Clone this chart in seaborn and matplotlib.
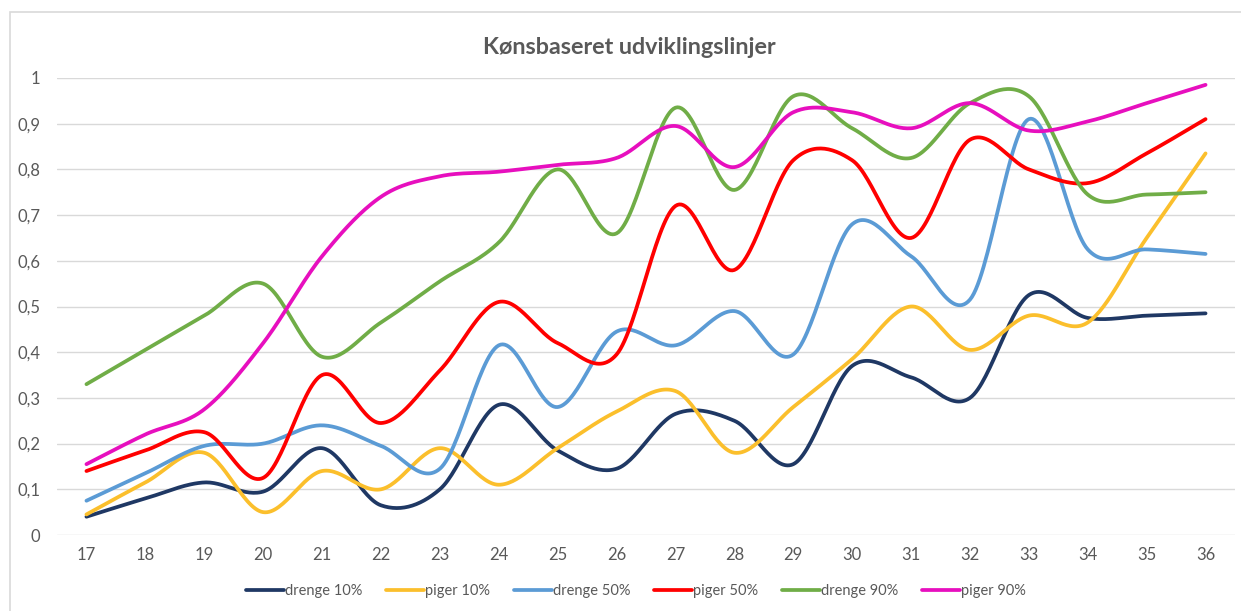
import numpy as np
import pandas as pd
import matplotlib
matplotlib.use("Agg")
import matplotlib.pyplot as plt
from matplotlib.patches import Rectangle
from matplotlib.lines import Line2D
import seaborn as sns

ages = [17, 18, 19, 20, 21, 22, 23, 24, 25, 26, 27, 28, 29, 30, 31, 32, 33, 34, 35, 36]

drenge_10 = [0.04, 0.08, 0.115, 0.095, 0.19, 0.065, 0.10, 0.285, 0.185, 0.145,
             0.265, 0.25, 0.155, 0.37, 0.345, 0.30, 0.525, 0.475, 0.48, 0.485]
piger_10 = [0.045, 0.115, 0.18, 0.05, 0.14, 0.10, 0.19, 0.11, 0.19, 0.27,
            0.315, 0.18, 0.28, 0.385, 0.50, 0.405, 0.48, 0.465, 0.65, 0.835]
drenge_50 = [0.075, 0.135, 0.195, 0.20, 0.24, 0.195, 0.145, 0.415, 0.28, 0.445,
             0.415, 0.49, 0.395, 0.68, 0.61, 0.515, 0.91, 0.625, 0.625, 0.615]
piger_50 = [0.14, 0.185, 0.225, 0.125, 0.35, 0.245, 0.36, 0.51, 0.42, 0.395,
            0.72, 0.58, 0.82, 0.82, 0.65, 0.865, 0.80, 0.77, 0.835, 0.91]
drenge_90 = [0.33, 0.405, 0.48, 0.55, 0.39, 0.465, 0.555, 0.64, 0.80, 0.66,
             0.935, 0.755, 0.96, 0.89, 0.825, 0.945, 0.96, 0.745, 0.745, 0.75]
piger_90 = [0.155, 0.22, 0.275, 0.42, 0.61, 0.74, 0.785, 0.795, 0.81, 0.825,
            0.895, 0.805, 0.925, 0.925, 0.89, 0.945, 0.885, 0.905, 0.945, 0.985]

series_names = ["drenge 10%", "piger 10%", "drenge 50%", "piger 50%", "drenge 90%", "piger 90%"]
series_values = [drenge_10, piger_10, drenge_50, piger_50, drenge_90, piger_90]
colors = ["#1F3864", "#FBBF2C", "#5B9BD5", "#FF0000", "#70AD47", "#E70FBE"]

y_ticks = [0, 0.1, 0.2, 0.3, 0.4, 0.5, 0.6, 0.7, 0.8, 0.9, 1.0]
y_ticklabels = ["0", "0,1", "0,2", "0,3", "0,4", "0,5", "0,6", "0,7", "0,8", "0,9", "1"]

title = "Kønsbaseret udviklingslinjer"


def smooth(y, n=30):
    """Excel-like smoothed line (Catmull-Rom as cubic Bezier segments)."""
    y = np.asarray(y, dtype=float)
    x = np.arange(len(y), dtype=float)
    pts = np.column_stack([x, y])
    out = []
    for i in range(len(pts) - 1):
        p0 = pts[i - 1] if i > 0 else pts[i]
        p1 = pts[i]
        p2 = pts[i + 1]
        p3 = pts[i + 2] if i + 2 < len(pts) else pts[i + 1]
        c1 = p1 + (p2 - p0) / 6.0
        c2 = p2 - (p3 - p1) / 6.0
        t = np.linspace(0, 1, n, endpoint=(i == len(pts) - 2))[:, None]
        seg = ((1 - t) ** 3) * p1 + 3 * ((1 - t) ** 2) * t * c1 + 3 * (1 - t) * t ** 2 * c2 + t ** 3 * p2
        out.append(seg)
    out = np.vstack(out)
    return out[:, 0], out[:, 1]


rows = []
for name, vals in zip(series_names, series_values):
    xs, ys = smooth(vals)
    rows.append(pd.DataFrame({"x": xs, "y": ys, "series": name, "order": np.arange(len(xs))}))
df = pd.concat(rows, ignore_index=True)

sns.set_theme(style="white")
plt.rcParams["font.family"] = ["Lato", "DejaVu Sans"]

W, H = 1241, 611
fig = plt.figure(figsize=(W / 100, H / 100), dpi=100)
ax = fig.add_axes([57 / W, (H - 535) / H, (1235 - 57) / W, (535 - 78) / H])

sns.lineplot(data=df, x="x", y="y", hue="series", hue_order=series_names,
             palette=colors, sort=False, estimator=None, units="series",
             linewidth=2.7, ax=ax, legend=False)

ax.set_xlim(-0.5, len(ages) - 0.5)
ax.set_ylim(0, 1)
ax.set_xticks(range(len(ages)))
ax.set_xticklabels([str(a) for a in ages])
ax.set_yticks(y_ticks)
ax.set_yticklabels(y_ticklabels)
ax.set_xlabel("")
ax.set_ylabel("")
ax.yaxis.grid(True, color="#D9D9D9", linewidth=1.0)
ax.xaxis.grid(False)
ax.set_axisbelow(True)
for s in ax.spines.values():
    s.set_visible(False)
ax.tick_params(axis="both", length=0, labelsize=12, labelcolor="#595959")
ax.tick_params(axis="y", pad=12)
ax.tick_params(axis="x", pad=9)

fig.text(629 / W, 1 - 47 / H, title, ha="center", va="center",
         fontsize=16.8, fontweight="bold", color="#595959")

handles = [Line2D([0], [0], color=c, linewidth=2.7) for c in colors]
fig.legend(handles, series_names, loc="center", bbox_to_anchor=(636 / W, 1 - 591 / H),
           ncol=6, frameon=False, fontsize=10.5, handlelength=2.6, handletextpad=0.05,
           columnspacing=1.65, labelcolor="#595959")

fig.patches.append(Rectangle((10 / W, -0.05), 1.2, (H - 12) / H + 0.05, transform=fig.transFigure,
                             fill=False, edgecolor="#D9D9D9", linewidth=1.2))

fig.savefig("out.png", dpi=100, facecolor="white")
